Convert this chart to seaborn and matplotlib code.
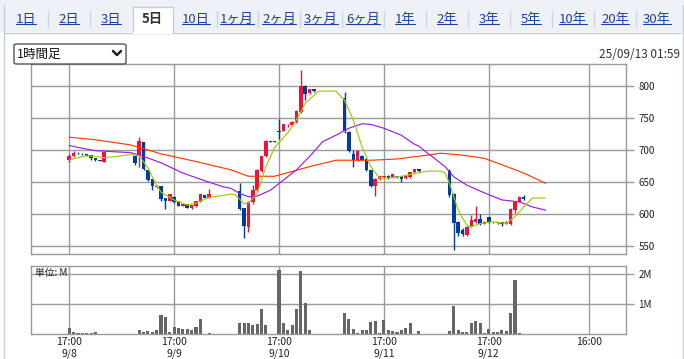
import numpy as np
import pandas as pd
import matplotlib
matplotlib.use("Agg")
import matplotlib.pyplot as plt
import seaborn as sns
from matplotlib.patches import Rectangle, FancyBboxPatch
from matplotlib.lines import Line2D

# hourly bars, hour counted from 9/8 00:00
hours = [17, 18, 19, 20, 21, 22, 23, 24, 25, 28,
         32, 33, 34, 35, 36, 37, 38, 39, 40, 41, 42, 43, 44, 45, 46, 47, 48, 49,
         56, 57, 58, 59, 60, 61, 62, 63, 64, 65, 66, 67, 68, 69, 70, 71, 72, 73,
         80, 81, 82, 83, 84, 85, 86, 87, 88, 89, 90, 91, 92, 93, 94, 95, 96, 97,
         104, 105, 106, 107, 108, 109, 110, 111, 112, 113, 114, 115, 116, 117, 118, 119, 120, 121]
opens = [684, 690, 696, 694, 693, 692, 688, 684, 682, 691,
         690, 691, 712, 669, 655, 642, 644, 625, 621, 627, 621, 613, 615, 610, 612, 619, 630, 625,
         636, 609, 580, 618, 637, 667, 690, 714, 714, 729, 730, 740, 739, 743, 760, 800, 789, 795,
         781, 728, 694, 684, 691, 686, 668, 644, 654, 658, 660, 657, 660, 659, 656, 658, 665, 670,
         667, 632, 588, 575, 567, 580, 587, 592, 585, 595, 588, 588, 587, 585, 584, 607, 619, 627]
highs = [693, 699, 697, 695, 694, 692, 688, 684, 697, 691,
         690, 720, 712, 669, 655, 646, 644, 625, 632, 628, 621, 617, 615, 614, 620, 632, 630, 639,
         648, 610, 620, 645, 670, 691, 716, 714, 714, 748, 741, 741, 745, 762, 825, 801, 796, 795,
         790, 729, 700, 700, 692, 687, 668, 656, 660, 660, 661, 663, 660, 659, 661, 666, 671, 671,
         671, 633, 589, 578, 581, 598, 613, 600, 589, 596, 588, 588, 587, 589, 609, 620, 628, 629]
lows = [681, 689, 694, 692, 690, 685, 683, 683, 682, 690,
        676, 674, 668, 651, 637, 641, 620, 608, 620, 617, 612, 612, 609, 608, 611, 618, 625, 625,
        606, 563, 572, 615, 635, 665, 689, 713, 713, 717, 729, 736, 738, 742, 758, 778, 788, 791,
        727, 697, 673, 683, 684, 667, 642, 628, 653, 657, 655, 656, 657, 650, 655, 657, 664, 666,
        627, 544, 565, 565, 566, 579, 586, 583, 584, 586, 586, 585, 581, 584, 583, 601, 618, 622]
closes = [691, 696, 695, 693, 691, 688, 684, 683, 697, 690,
          679, 714, 670, 653, 643, 644, 623, 620, 631, 618, 613, 615, 610, 614, 620, 631, 625, 631,
          608, 582, 618, 637, 669, 691, 714, 713, 713, 728, 740, 741, 744, 761, 800, 788, 795, 792,
          729, 699, 684, 699, 685, 668, 644, 655, 659, 659, 656, 662, 658, 655, 660, 665, 670, 667,
          629, 586, 571, 569, 580, 590, 592, 584, 587, 587, 587, 586, 585, 588, 608, 619, 627, 623]
volumes = [0.21, 0.08, 0.045, 0.045, 0.045, 0.045, 0.08, 0.01, 0.01, 0.01,
           0.01, 0.14, 0.09, 0.11, 0.09, 0.14, 0.64, 0.58, 0.08, 0.24, 0.21, 0.18, 0.18, 0.14, 0.24, 0.51, 0.01, 0.045,
           0.38, 0.38, 0.38, 0.31, 0.34, 0.84, 0.31, 0.01, 0.01, 2.14, 0.38, 0.14, 0.31, 0.84, 2.11, 1.03, 0.14, 0.01,
           0.70, 0.51, 0.18, 0.045, 0.14, 0.14, 0.40, 0.44, 0.045, 0.48, 0.14, 0.11, 0.08, 0.14, 0.21, 0.38, 0.01, 0.11,
           0.11, 0.94, 0.14, 0.08, 0.08, 0.38, 0.44, 0.38, 0.045, 0.18, 0.08, 0.08, 0.14, 0.11, 0.71, 1.81, 0.045, 0.01]

# moving averages
ma_short_h = [17, 19, 21, 23, 25, 28, 31, 33, 35, 37, 38, 41, 44, 46, 49, 54, 55, 57, 58, 60, 62, 64,
              67, 69, 71, 74, 78, 80, 82, 84, 86, 88, 90, 93, 96, 99, 102, 103, 104, 106, 108, 109,
              111, 114, 117, 119, 121, 123, 126]
ma_short = [684, 688, 691, 690, 688, 690, 693, 691, 672, 645, 634, 622, 614, 617, 626, 631, 630, 616, 617,
            632, 674, 704, 727, 747, 773, 792, 792, 778, 747, 705, 674, 656, 656, 659, 663, 667, 667, 664,
            648, 606, 582, 580, 585, 588, 585, 596, 611, 625, 625]
ma_mid_h = [17, 19, 23, 28, 31, 34, 38, 43, 48, 52, 54, 56, 58, 60, 63, 66, 69, 72, 75, 78, 81, 84,
            86, 89, 93, 96, 97, 99, 100, 103, 105, 108, 112, 116, 120, 123, 126]
ma_mid = [707, 704, 699, 697, 696, 690, 680, 664, 652, 643, 640, 632, 627, 628, 637, 653, 669, 690, 713,
          723, 734, 741, 740, 734, 723, 709, 706, 695, 690, 674, 658, 645, 633, 622, 619, 611, 606]
ma_long_h = [17, 23, 31, 33, 38, 46, 54, 58, 64, 72, 78, 86, 92, 99, 102, 107, 112, 116, 121, 126]
ma_long = [720, 716, 708, 704, 694, 682, 669, 659, 659, 674, 684, 684, 686, 692, 695, 692, 687, 677, 664, 648]

grid_hours = [17, 41, 65, 89, 113, 136]
grid_labels = ["17:00\n9/8", "17:00\n9/9", "17:00\n9/10", "17:00\n9/11", "17:00\n9/12", "16:00"]
price_ticks = [550, 600, 650, 700, 750, 800]
tabs = ["1日", "2日", "3日", "5日", "10日", "1ヶ月", "2ヶ月", "3ヶ月", "6ヶ月",
        "1年", "2年", "3年", "5年", "10年", "20年", "30年"]

RED = "#f0103c"
BLUE = "#003c9c"
GRID = "#9a9a9a"

sns.set_theme(style="white")
plt.rcParams['font.family'] = ['Noto Sans CJK JP', 'DejaVu Sans']

W, H = 684, 359
fig = plt.figure(figsize=(W / 100, H / 100), dpi=100)
fig.patch.set_facecolor("white")

df = pd.DataFrame(dict(hour=hours, open=opens, high=highs, low=lows, close=closes, volume=volumes))
colors = np.where(df.close >= df.open, RED, BLUE)

# price panel
ax = fig.add_axes([31 / W, 1 - 254 / H, 595 / W, 190 / H])
ax.set_axisbelow(True)
ax.vlines(df.hour, df.low, df.high, colors=colors, lw=1)
body = (df.close - df.open).abs().clip(lower=0.9)
ax.bar(df.hour, body, bottom=df[["open", "close"]].min(axis=1), width=0.8, color=colors, linewidth=0)

sns.lineplot(x=ma_long_h, y=ma_long, ax=ax, color="#ff3a00", lw=0.85, estimator=None)
sns.lineplot(x=ma_mid_h, y=ma_mid, ax=ax, color="#9a1cf0", lw=0.85, estimator=None)
sns.lineplot(x=ma_short_h, y=ma_short, ax=ax, color="#a0cc00", lw=0.85, estimator=None)

ax.set_xlim(8.25, 144.4)
ax.set_ylim(537.5, 834.4)
ax.set_xticks(grid_hours)
ax.set_xticklabels([])
ax.set_yticks(price_ticks)
ax.yaxis.tick_right()
ax.tick_params(axis="x", length=0)
ax.tick_params(axis="y", length=6, width=1, color=GRID, labelsize=7, pad=3, labelcolor="#222")
ax.grid(True, color=GRID, lw=1)
ax.set_xlabel("")
ax.set_ylabel("")
for s in ax.spines.values():
    s.set_color(GRID)
    s.set_linewidth(1)

# volume panel
axv = fig.add_axes([31 / W, 1 - 334.3 / H, 595 / W, 68.3 / H])
axv.set_axisbelow(True)
axv.bar(df.hour, df.volume, width=0.7, color="#666666", linewidth=0)
axv.set_xlim(8.25, 144.4)
axv.set_ylim(0, 2.277)
axv.set_xticks(grid_hours)
axv.set_xticklabels(grid_labels, fontsize=7.5, color="#222", linespacing=1.15)
axv.set_yticks([1, 2])
axv.set_yticklabels(["1M", "2M"])
axv.yaxis.tick_right()
axv.tick_params(axis="x", length=0, pad=2)
axv.tick_params(axis="y", length=6, width=1, color=GRID, labelsize=7, pad=3, labelcolor="#222")
axv.grid(True, color=GRID, lw=1)
for s in axv.spines.values():
    s.set_color(GRID)
    s.set_linewidth(1)
axv.text(0.006, 0.9, "単位: M", transform=axv.transAxes, fontsize=7, color="#222", va="center")


# page furniture in pixel coordinates
def px(x, y):
    return x / W, 1 - y / H


fig.add_artist(Rectangle(px(0, 32), 1, 32 / H, transform=fig.transFigure,
                         facecolor="#eef2f8", edgecolor="none"))
fig.add_artist(Line2D([3.5 / W, 680.5 / W], [1 - 32.5 / H] * 2, color="#c8ccd4", lw=1))
fig.add_artist(Line2D([3.5 / W] * 2, [1 - 5 / H, 0], color="#c8ccd4", lw=1))
fig.add_artist(Line2D([682.5 / W] * 2, [1 - 5 / H, 0], color="#c8ccd4", lw=1))
fig.add_artist(Rectangle(px(133, 33), 40 / W, 26 / H, transform=fig.transFigure,
                         facecolor="white", edgecolor="#c8ccd4", lw=1))
fig.add_artist(Line2D([133.8 / W, 172.2 / W], [1 - 32.5 / H] * 2, color="white", lw=1.4))

tab_x = [26, 69, 111, 152, 196, 237, 279, 321, 363, 405, 447, 489, 531, 573, 615, 657]
tab_texts = []
for i, (lab, tx) in enumerate(zip(tabs, tab_x)):
    if lab == "5日":
        fig.text(*px(tx, 19), lab, ha="center", va="center", fontsize=9.5, color="#333", weight="bold")
    else:
        t = fig.text(*px(tx, 19), lab, ha="center", va="center", fontsize=9.5, color="#1f3fa0")
        tab_texts.append(t)
    if i < len(tabs) - 1 and i not in (2, 3):
        sx = (tx + tab_x[i + 1]) / 2
        fig.add_artist(Line2D([sx / W] * 2, [1 - 11 / H, 1 - 27 / H], color="#cfd3da", lw=1))

fig.canvas.draw()
inv = fig.transFigure.inverted()
for t in tab_texts:
    bb = t.get_window_extent()
    (x0, y0), (x1, y1) = inv.transform([(bb.x0, bb.y0), (bb.x1, bb.y1)])
    fig.add_artist(Line2D([x0, x1], [y0 + 0.004, y0 + 0.004], color="#1f3fa0", lw=0.8))

# dropdown
fig.add_artist(FancyBboxPatch(px(14, 64), 112 / W, 20 / H, transform=fig.transFigure,
                              boxstyle="round,pad=0,rounding_size=0.004",
                              facecolor="white", edgecolor="#555", lw=1))
fig.text(*px(17, 54), "1時間足", ha="left", va="center", fontsize=9, color="#111")
fig.add_artist(Line2D([113 / W, 117 / W, 121 / W], [1 - 51 / H, 1 - 55 / H, 1 - 51 / H],
                      color="#222", lw=1.8))
fig.text(*px(680, 54), "25/09/13 01:59", ha="right", va="center", fontsize=8.5, color="#333")

fig.savefig("out.png", dpi=100)
